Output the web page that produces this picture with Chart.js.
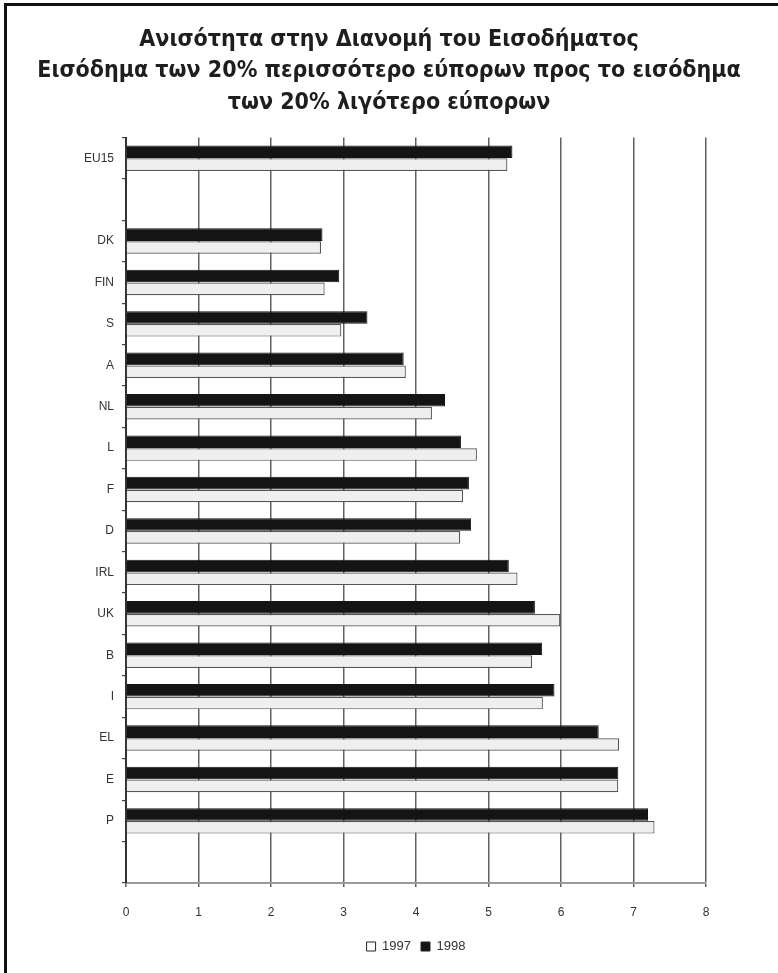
<!DOCTYPE html>
<html>
<head>
<meta charset="utf-8">
<script src="https://cdn.jsdelivr.net/npm/chart.js@4"></script>
<style>
  html, body { margin: 0; padding: 0; background: #fff; }
  #wrap { position: relative; width: 778px; height: 973px; }
  #frame { position: absolute; left: 4px; top: 3px; right: 0; bottom: 0;
           border-left: 3px solid #111; border-top: 3px solid #111; pointer-events: none; }
  canvas { display: block; }
</style>
</head>
<body>
<div id="wrap">
  <canvas id="chart" width="778" height="973"></canvas>
  <div id="frame"></div>
</div>
<script>
// countries (blank slots are gaps in the original chart)
let categories = ['EU15', '', 'DK', 'FIN', 'S', 'A', 'NL', 'L', 'F', 'D', 'IRL', 'UK', 'B', 'I', 'EL', 'E', 'P', ''];
let values_1997 = [5.26, null, 2.69, 2.74, 2.97, 3.86, 4.22, 4.84, 4.65, 4.61, 5.4, 5.99, 5.6, 5.75, 6.8, 6.79, 7.29, null];
let values_1998 = [5.33, null, 2.71, 2.94, 3.33, 3.83, 4.4, 4.62, 4.73, 4.76, 5.28, 5.64, 5.74, 5.91, 6.52, 6.79, 7.2, null];
let x_ticks = [0, 1, 2, 3, 4, 5, 6, 7, 8];
let title_lines = [
    'Ανισότητα στην Διανομή του Εισοδήματος',
    'Εισόδημα των 20% περισσότερο εύπορων προς το εισόδημα',
    'των 20% λιγότερο εύπορων'
];

const TITLE_FONT = '"DejaVu Sans Condensed", "Liberation Sans Narrow", sans-serif';
const FONT = '"Liberation Sans", Arial, sans-serif';

function getGraphConfig() {
    return {
        type: 'bar',
        data: {
            labels: categories,
            datasets: [{
                label: '1998',
                data: values_1998,
                backgroundColor: '#141414',
                borderColor: '#141414',
                borderWidth: 1
            }, {
                label: '1997',
                data: values_1997,
                backgroundColor: '#efefef',
                borderColor: '#555',
                borderWidth: 1.2
            }]
        },
        options: {
            indexAxis: 'y',
            responsive: false,
            animation: false,
            layout: { padding: { left: 0, right: 0, top: 0, bottom: 10 } },
            datasets: { bar: { categoryPercentage: 0.62, barPercentage: 0.98 } },
            plugins: {
                title: {
                    display: true,
                    text: title_lines,
                    color: '#1e1e1e',
                    font: { family: TITLE_FONT, size: 23, weight: 'bold', lineHeight: 1.37 },
                    padding: { top: 24, bottom: 19 }
                },
                legend: {
                    position: 'bottom',
                    reverse: true,
                    fullSize: false,
                    labels: {
                        boxWidth: 9,
                        boxHeight: 9,
                        padding: 10,
                        color: '#333',
                        font: { family: FONT, size: 13 },
                        generateLabels: function (chart) {
                            return chart.data.datasets.map(function (ds, i) {
                                return {
                                    text: ds.label,
                                    fillStyle: i === 0 ? '#141414' : '#fff',
                                    strokeStyle: '#222',
                                    lineWidth: 1,
                                    datasetIndex: i,
                                    fontColor: '#333'
                                };
                            });
                        }
                    }
                },
                tooltip: { enabled: false }
            },
            scales: {
                x: {
                    min: 0,
                    max: 8,
                    afterBuildTicks: function (scale) {
                        scale.ticks = x_ticks.map(function (v) { return { value: v }; });
                    },
                    afterFit: function (scale) { scale.height = 47; },
                    grid: { color: '#606060', lineWidth: 1.5, tickLength: 4 },
                    border: { color: '#9a9a9a', width: 2 },
                    ticks: { color: '#333', font: { family: FONT, size: 12 }, padding: 18 }
                },
                y: {
                    afterFit: function (scale) { scale.width = 126; },
                    grid: { drawOnChartArea: false, offset: true, color: '#444', tickLength: 4, lineWidth: 1.2 },
                    border: { color: '#333', width: 2 },
                    ticks: { color: '#333', font: { family: FONT, size: 12 }, padding: 8 }
                },
                // empty right-hand axis that just reserves the margin
                yr: {
                    type: 'category',
                    axis: 'y',
                    position: 'right',
                    afterFit: function (scale) { scale.width = 72; },
                    grid: { display: false },
                    border: { display: false },
                    ticks: { display: false }
                }
            }
        }
    };
}

function generateGraph(graph_config, canvas) {
    let ctx = canvas.getContext('2d');
    return new Chart(ctx, graph_config);
}

generateGraph(getGraphConfig(), document.getElementById('chart'));
</script>
</body>
</html>
